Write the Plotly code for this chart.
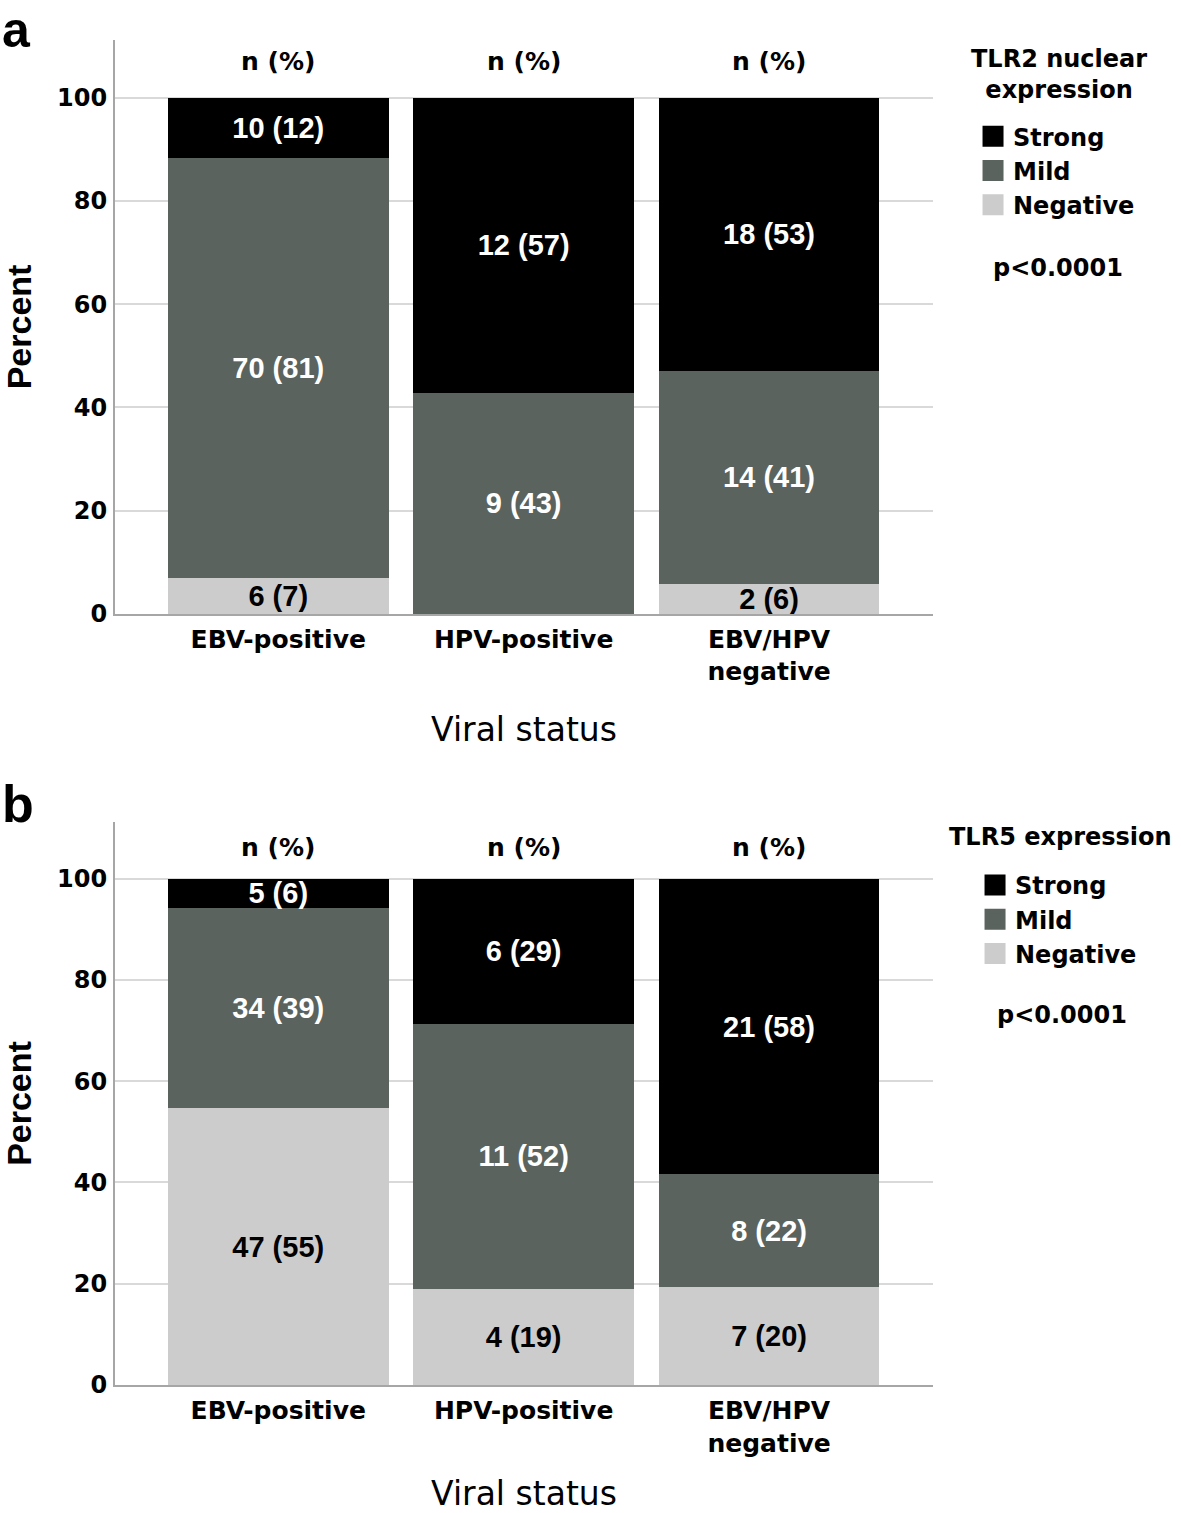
import plotly.graph_objects as go
from plotly.subplots import make_subplots

# ---------------- data ----------------
categories = ["EBV-positive", "HPV-positive", "EBV/HPV<br>negative"]
levels = ["Strong", "Mild", "Negative"]

# Panel a: TLR2 nuclear expression (percent of each viral group)
tlr2_strong_pct = [11.6, 57.1, 52.9]
tlr2_mild_pct = [81.4, 42.9, 41.2]
tlr2_neg_pct = [7.0, 0.0, 5.9]
tlr2_strong_lbl = ["10 (12)", "12 (57)", "18 (53)"]
tlr2_mild_lbl = ["70 (81)", "9 (43)", "14 (41)"]
tlr2_neg_lbl = ["6 (7)", "", "2 (6)"]

# Panel b: TLR5 expression
tlr5_strong_pct = [5.8, 28.6, 58.3]
tlr5_mild_pct = [39.5, 52.4, 22.2]
tlr5_neg_pct = [54.7, 19.0, 19.4]
tlr5_strong_lbl = ["5 (6)", "6 (29)", "21 (58)"]
tlr5_mild_lbl = ["34 (39)", "11 (52)", "8 (22)"]
tlr5_neg_lbl = ["47 (55)", "4 (19)", "7 (20)"]

y_ticks = [0, 20, 40, 60, 80, 100]
header_label = "n (%)"
p_value_text = "p<0.0001"
legend_titles = ["TLR2 nuclear<br>expression", "TLR5 expression"]

# ---------------- styles ----------------
colors = {"Strong": "#000000", "Mild": "#5a635e", "Negative": "#cccccc"}
label_colors = {"Strong": "#ffffff", "Mild": "#ffffff", "Negative": "#000000"}
LAB_FONT = "Liberation Sans, Arial, sans-serif"
AX_FONT = "DejaVu Sans, sans-serif"

fig = make_subplots(rows=2, cols=1)

panels = [
    (1, "legend", [tlr2_strong_pct, tlr2_mild_pct, tlr2_neg_pct],
     [tlr2_strong_lbl, tlr2_mild_lbl, tlr2_neg_lbl]),
    (2, "legend2", [tlr5_strong_pct, tlr5_mild_pct, tlr5_neg_pct],
     [tlr5_strong_lbl, tlr5_mild_lbl, tlr5_neg_lbl]),
]

for row, leg, vals, lbls in panels:
    # stack from bottom: Negative, Mild, Strong
    for lvl, v, t in reversed(list(zip(levels, vals, lbls))):
        fig.add_trace(
            go.Bar(
                x=categories, y=v, name=lvl, text=t,
                texttemplate="<b>%{text}</b>",
                textposition="inside", insidetextanchor="middle", textangle=0,
                textfont=dict(family=LAB_FONT, size=29, color=label_colors[lvl]),
                marker=dict(color=colors[lvl], line=dict(width=0)),
                width=0.9, showlegend=False, cliponaxis=False,
                hoverinfo="skip",
            ),
            row=row, col=1,
        )
    # legend entries (square swatches)
    for lvl in levels:
        fig.add_trace(
            go.Scatter(
                x=[categories[0]], y=[None], mode="markers", name=lvl, legend=leg,
                marker=dict(symbol="square", size=16, color=colors[lvl],
                            line=dict(color=colors[lvl], width=5)),
                showlegend=True, hoverinfo="skip",
            ),
            row=row, col=1,
        )

legend_common = dict(
    xanchor="left", yanchor="top", traceorder="normal",
    font=dict(family=AX_FONT, size=24, color="black", weight="bold"),
    itemwidth=30, bgcolor="rgba(0,0,0,0)", borderwidth=0,
)
fig.update_layout(
    barmode="stack",
    width=1181, height=1513,
    margin=dict(l=0, r=0, t=0, b=0, autoexpand=False),
    paper_bgcolor="white", plot_bgcolor="white",
    showlegend=True,
    uniformtext=dict(minsize=29, mode="show"),
    legend=dict(x=0.8239, y=0.9245, **legend_common),
    legend2=dict(x=0.8256, y=0.4296, **legend_common),
)

domains = {1: [0.5942, 0.9736], 2: [0.0846, 0.4567]}
for row in (1, 2):
    fig.update_yaxes(
        row=row, col=1, domain=domains[row], range=[0, 111.2],
        automargin=False,
        tickvals=y_ticks, ticktext=[f"<b>{v}</b>" for v in y_ticks],
        tickfont=dict(family=AX_FONT, size=24, color="black"),
        ticks="", ticklabelstandoff=1,
        showgrid=True, gridcolor="#d9d9d9", gridwidth=1.5,
        showline=True, linecolor="#a6a6a6", linewidth=2,
        zeroline=False,
        title=dict(text="<b>Percent</b>", standoff=17,
                   font=dict(family=LAB_FONT, size=34, color="black")),
    )
    fig.update_xaxes(
        row=row, col=1, domain=[0.0974, 0.790], range=[-0.665, 2.668],
        type="category", automargin=False,
        tickvals=categories, ticktext=[f"<b>{c}</b>" for c in categories],
        tickfont=dict(family=AX_FONT, size=25, color="black"),
        ticks="", ticklabelstandoff=2,
        showgrid=False, showline=True, linecolor="#a6a6a6", linewidth=2,
        zeroline=False,
        title=dict(text="Viral status", standoff=32,
                   font=dict(family=AX_FONT, size=33, color="black")),
    )

# header "n (%)" above each bar
for xref, yref, ypos in (("x", "y domain", 0.962), ("x2", "y2 domain", 0.9556)):
    for c in categories:
        fig.add_annotation(x=c, y=ypos, xref=xref, yref=yref, text=f"<b>{header_label}</b>",
                           showarrow=False, xanchor="center", yanchor="middle",
                           font=dict(family=AX_FONT, size=25, color="black"))

# legend titles
fig.add_annotation(x=1059 / 1181, y=1 - 74 / 1513, xref="paper", yref="paper",
                   text=f"<b>{legend_titles[0]}</b>", showarrow=False,
                   xanchor="center", yanchor="middle", align="center",
                   font=dict(family=AX_FONT, size=24, color="black"))
fig.add_annotation(x=1060 / 1181, y=1 - 837 / 1513, xref="paper", yref="paper",
                   text=f"<b>{legend_titles[1]}</b>", showarrow=False,
                   xanchor="center", yanchor="middle", align="center",
                   font=dict(family=AX_FONT, size=24, color="black"))

# p-values
fig.add_annotation(x=1058 / 1181, y=1 - 268 / 1513, xref="paper", yref="paper",
                   text=f"<b>{p_value_text}</b>", showarrow=False,
                   xanchor="center", yanchor="middle",
                   font=dict(family=AX_FONT, size=24, color="black"))
fig.add_annotation(x=1062 / 1181, y=1 - 1015 / 1513, xref="paper", yref="paper",
                   text=f"<b>{p_value_text}</b>", showarrow=False,
                   xanchor="center", yanchor="middle",
                   font=dict(family=AX_FONT, size=24, color="black"))

# panel letters
fig.add_annotation(x=0.0, y=1.0, xref="paper", yref="paper", text="<b>a</b>",
                   showarrow=False, xanchor="left", yanchor="top",
                   font=dict(family=LAB_FONT, size=50, color="black"))
fig.add_annotation(x=0.0, y=0.4686, xref="paper", yref="paper", text="<b>b</b>",
                   showarrow=False, xanchor="left", yanchor="middle",
                   font=dict(family=LAB_FONT, size=52, color="black"))

fig.write_html(
    "out.html",
    config={"displayModeBar": False},
    post_script="document.body.style.margin='0';"
                "document.documentElement.style.overflow='hidden';"
                "document.body.style.overflow='hidden';",
)
